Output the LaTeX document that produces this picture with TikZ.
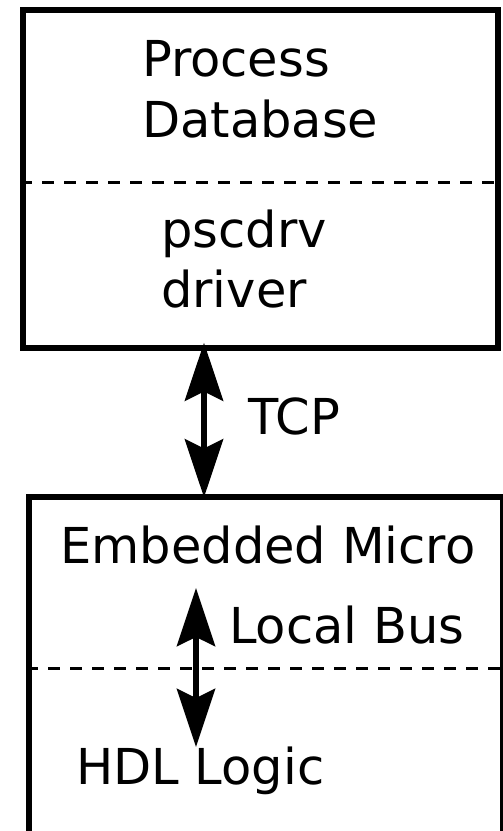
\documentclass[tikz,border=0pt]{standalone}
\usepackage{fontspec}
\setmainfont{DejaVu Sans}
\usetikzlibrary{arrows.meta}
\begin{document}
\begin{tikzpicture}[x=1pt,y=-1pt,
  box/.style={draw, line width=5.2pt, rectangle, inner sep=0pt},
  sep/.style={draw, line width=3pt, dash pattern=on 12pt off 10pt},
  lbl/.style={anchor=base west, inner sep=0pt, font=\fontsize{49.5}{58}\selectfont},
  biarrow/.style={line width=6.5pt,
    {Stealth[length=58pt,width=38pt,inset=9pt]}-{Stealth[length=58pt,width=38pt,inset=9pt]}}]
  \useasboundingbox (0,0) rectangle (503,831);
  \clip (0,0) rectangle (503,831);

  % upper block: process database with driver
  \node[box, minimum width=475pt, minimum height=338pt] (pdb) at (260.5,179) {};
  \draw[sep] (pdb.west |- 0,182) -- (pdb.east |- 0,182);
  \node[lbl] (procA) at (142,76) {Process};
  \node[lbl] (procB) at (142,137) {Database};
  \node[lbl] (drvA) at (161,247) {pscdrv};
  \node[lbl] (drvB) at (161,307) {driver};

  % lower block: embedded micro with HDL logic
  \node[box, minimum width=474pt, minimum height=370pt] (micro) at (266,682) {};
  \draw[sep] (micro.west |- 0,668) -- (micro.east |- 0,668);
  \node[lbl] (emb) at (60,563) {Embedded Micro};
  \node[lbl] (hdl) at (76,784) {HDL Logic};

  % TCP link between the blocks
  \coordinate (tcpx) at (204,0);
  \draw[biarrow, shorten <=-8pt, shorten >=-3pt] (pdb.south -| tcpx) -- (micro.north -| tcpx);
  \node[lbl] (tcp) at (248,434) {TCP};

  % local bus inside the lower block
  \coordinate (busTop) at (196,588);
  \coordinate (busBot) at (196,747);
  \draw[biarrow] (busTop) -- (busBot);
  \node[lbl] (bus) at (229,643) {Local Bus};
\end{tikzpicture}
\end{document}
